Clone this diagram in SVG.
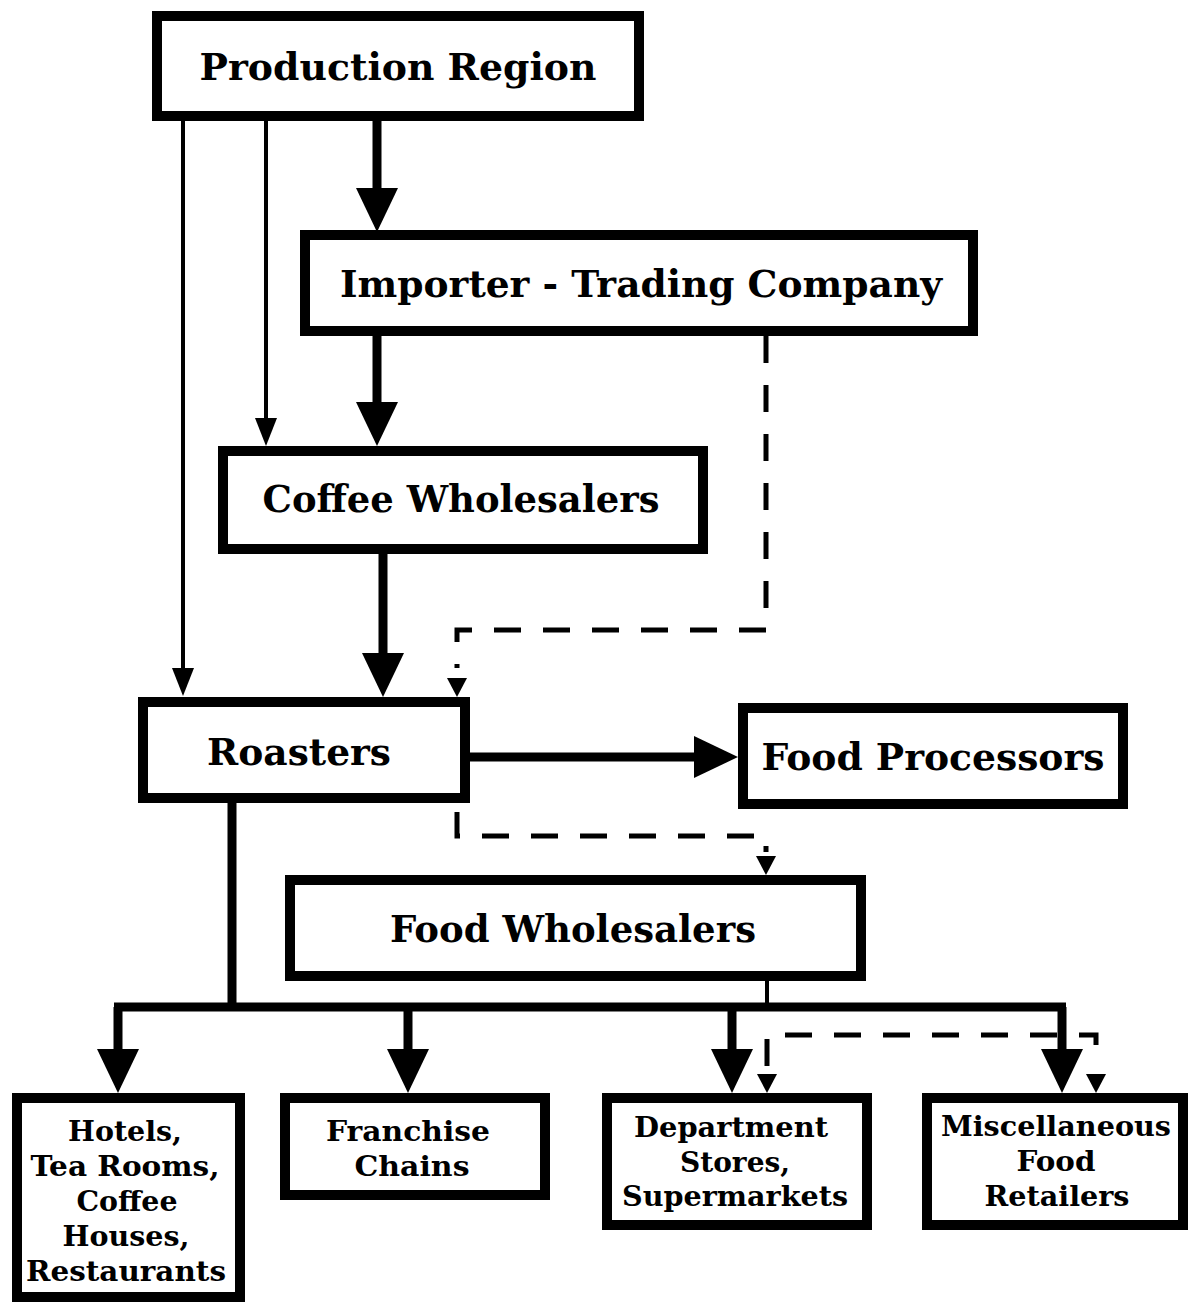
<svg xmlns="http://www.w3.org/2000/svg" width="1193" height="1304" viewBox="0 0 1193 1304">
<style>
.box{fill:#fff;stroke:#000;stroke-width:10}
.t{font-family:"DejaVu Serif","Liberation Serif",serif;font-weight:bold;fill:#000;text-anchor:middle}
.big{font-size:38px}
.sm{font-size:27px}
.thick{fill:none;stroke:#000;stroke-width:9}
.thin{fill:none;stroke:#000;stroke-width:4}
.dash{fill:none;stroke:#000;stroke-width:5;stroke-dasharray:27 22}
.head{fill:#000}
</style>
<defs>
<marker id="hb" markerUnits="userSpaceOnUse" markerWidth="44" markerHeight="42" refX="0" refY="21" orient="auto"><path d="M0,0 L44,21 L0,42 z" fill="#000"/></marker>
<marker id="ht" markerUnits="userSpaceOnUse" markerWidth="28" markerHeight="22" refX="0" refY="11" orient="auto"><path d="M0,0 L28,11 L0,22 z" fill="#000"/></marker>
</defs>
<rect width="1193" height="1304" fill="#fff"/>
<g id="connectors">
<path class="thin" d="M183,120 V668" marker-end="url(#ht)"/>
<path class="thin" d="M266,120 V418" marker-end="url(#ht)"/>
<path class="thick" d="M377,120 V188" marker-end="url(#hb)"/>
<path class="thick" d="M377,336 V402" marker-end="url(#hb)"/>
<path class="thick" d="M383,554 V653" marker-end="url(#hb)"/>
<path class="dash" d="M766,336 V630 H457 V668"/>
<polygon class="head" points="447,678 467,678 457,697"/>
<path class="thick" d="M470,757 H694" marker-end="url(#hb)"/>
<path class="dash" d="M457,812 V836 H766 V852"/>
<polygon class="head" points="756,856 776,856 766,875"/>
<path class="thick" d="M232,803 V1007"/>
<path class="thick" d="M114,1007 H1066"/>
<path class="thin" d="M767,981 V1007"/>
<path class="thick" d="M118,1007 V1049" marker-end="url(#hb)"/>
<path class="thick" d="M408,1007 V1049" marker-end="url(#hb)"/>
<path class="thick" d="M732,1007 V1049" marker-end="url(#hb)"/>
<path class="thick" d="M1062,1007 V1049" marker-end="url(#hb)"/>
<path class="dash" d="M767,1066 V1035 H1096 V1066"/>
<polygon class="head" points="757,1074 777,1074 767,1093"/>
<polygon class="head" points="1086,1074 1106,1074 1096,1093"/>
</g>
<g id="production-region">
<rect class="box" x="157" y="16" width="482" height="100"/>
<text class="t big" x="398" y="80" textLength="397" lengthAdjust="spacingAndGlyphs">Production Region</text>
</g>
<g id="importer">
<rect class="box" x="305" y="235" width="668" height="96"/>
<text class="t big" x="641" y="297" textLength="602" lengthAdjust="spacingAndGlyphs">Importer - Trading Company</text>
</g>
<g id="coffee-wholesalers">
<rect class="box" x="223" y="451" width="480" height="98"/>
<text class="t big" x="461" y="512" textLength="397" lengthAdjust="spacingAndGlyphs">Coffee Wholesalers</text>
</g>
<g id="roasters">
<rect class="box" x="143" y="702" width="322" height="96"/>
<text class="t big" x="299" y="765" textLength="184" lengthAdjust="spacingAndGlyphs">Roasters</text>
</g>
<g id="food-processors">
<rect class="box" x="743" y="708" width="380" height="96"/>
<text class="t big" x="933" y="770" textLength="343" lengthAdjust="spacingAndGlyphs">Food Processors</text>
</g>
<g id="food-wholesalers">
<rect class="box" x="290" y="880" width="571" height="96"/>
<text class="t big" x="573" y="942" textLength="366" lengthAdjust="spacingAndGlyphs">Food Wholesalers</text>
</g>
<g id="hotels">
<rect class="box" x="17" y="1098" width="223" height="199"/>
<text class="t sm" x="125" y="1141" textLength="114" lengthAdjust="spacingAndGlyphs">Hotels,</text>
<text class="t sm" x="125" y="1176" textLength="189" lengthAdjust="spacingAndGlyphs">Tea Rooms,</text>
<text class="t sm" x="127" y="1211" textLength="101" lengthAdjust="spacingAndGlyphs">Coffee</text>
<text class="t sm" x="126" y="1246" textLength="127" lengthAdjust="spacingAndGlyphs">Houses,</text>
<text class="t sm" x="126" y="1281" textLength="200" lengthAdjust="spacingAndGlyphs">Restaurants</text>
</g>
<g id="franchise">
<rect class="box" x="285" y="1098" width="260" height="97"/>
<text class="t sm" x="408" y="1141" textLength="164" lengthAdjust="spacingAndGlyphs">Franchise</text>
<text class="t sm" x="412" y="1176" textLength="115" lengthAdjust="spacingAndGlyphs">Chains</text>
</g>
<g id="department">
<rect class="box" x="607" y="1098" width="260" height="127"/>
<text class="t sm" x="731" y="1137" textLength="194" lengthAdjust="spacingAndGlyphs">Department</text>
<text class="t sm" x="735" y="1172" textLength="110" lengthAdjust="spacingAndGlyphs">Stores,</text>
<text class="t sm" x="735" y="1206" textLength="226" lengthAdjust="spacingAndGlyphs">Supermarkets</text>
</g>
<g id="misc">
<rect class="box" x="927" y="1098" width="256" height="127"/>
<text class="t sm" x="1056" y="1136" textLength="230" lengthAdjust="spacingAndGlyphs">Miscellaneous</text>
<text class="t sm" x="1056" y="1171" textLength="79" lengthAdjust="spacingAndGlyphs">Food</text>
<text class="t sm" x="1057" y="1206" textLength="145" lengthAdjust="spacingAndGlyphs">Retailers</text>
</g>
</svg>
